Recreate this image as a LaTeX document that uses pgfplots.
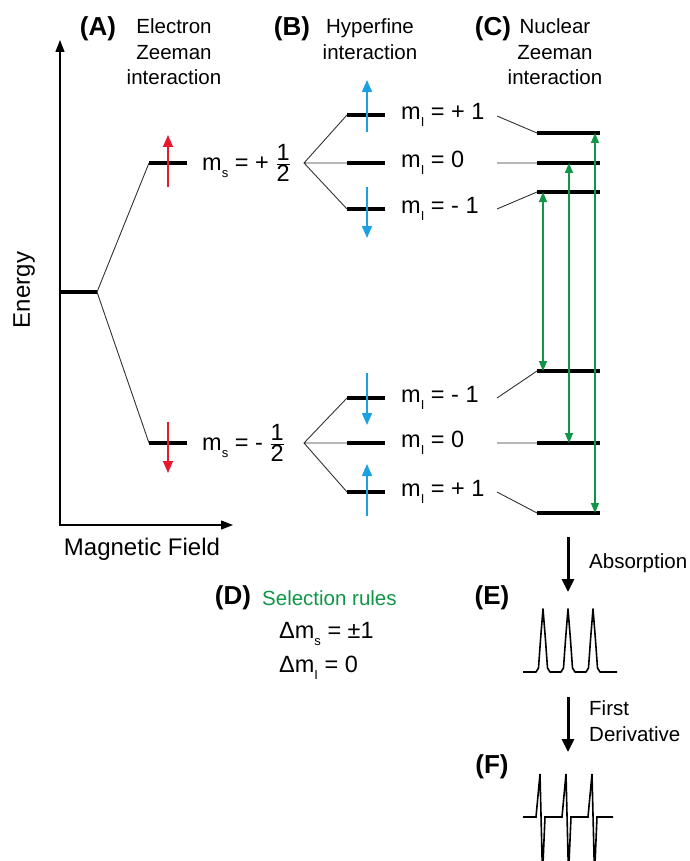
\documentclass[border=0pt]{standalone}
\usepackage{fontspec}
\setmainfont{Liberation Sans}
\usepackage{pgfplots}
\pgfplotsset{compat=1.18}
\usetikzlibrary{arrows.meta}
\definecolor{myred}{RGB}{230,25,45}
\definecolor{myblue}{RGB}{27,161,226}
\definecolor{mygreen}{RGB}{16,150,70}
\definecolor{thinc}{RGB}{50,50,50}
\newcommand\sub[1]{\raisebox{-0.55ex}{\fontsize{13bp}{13bp}\selectfont #1}}
\newcommand\half{$\frac{\mbox{1}}{\mbox{2}}$}
\newcommand\tfont{\fontsize{20.5bp}{25.5bp}\selectfont}
\newcommand\mfont{\fontsize{23.5bp}{26bp}\selectfont}
\newcommand\bfont{\fontsize{26bp}{30bp}\selectfont\bfseries}
\begin{document}
\begin{tikzpicture}
\begin{axis}[
  scale only axis, width=690bp, height=861bp,
  xmin=0, xmax=690, ymin=0, ymax=861, y dir=reverse,
  hide axis, unbounded coords=jump,
]
\addplot[draw=none] coordinates {(0,0) (690,861)};
% energy / field axes
\addplot[line width=1.3bp, {Triangle[length=12bp,width=9bp]}-{Triangle[length=12bp,width=9bp]}]
  coordinates {(60,40) (60,525) (233,525)};
% thin connecting lines
\addplot[line width=0.9bp, thinc] coordinates {
 (149,163) (97,292) (149,443) (nan,nan)
 (347,115) (304,163) (347,209) (nan,nan)
 (304,163) (347,163) (nan,nan)
 (347,398) (304,443) (347,492) (nan,nan)
 (304,443) (347,443) (nan,nan)
 (497,116) (537,133) (nan,nan)
 (497,163) (537,163) (nan,nan)
 (497,209) (537,192) (nan,nan)
 (497,398) (537,371) (nan,nan)
 (497,443) (537,443) (nan,nan)
 (497,492) (537,513)
};
% thick energy levels
\addplot[line width=3.5bp, black] coordinates {
 (60,292) (97,292) (nan,nan)
 (149,163) (187,163) (nan,nan)
 (149,443) (187,443) (nan,nan)
 (347,115) (385,115) (nan,nan)
 (347,163) (385,163) (nan,nan)
 (347,209) (385,209) (nan,nan)
 (347,398) (385,398) (nan,nan)
 (347,443) (385,443) (nan,nan)
 (347,492) (385,492) (nan,nan)
 (537,133) (600,133) (nan,nan)
 (537,163) (600,163) (nan,nan)
 (537,192) (600,192) (nan,nan)
 (537,371) (600,371) (nan,nan)
 (537,443) (600,443) (nan,nan)
 (537,513) (600,513)
};
% electron spin arrows
\addplot[line width=1.6bp, myred, -{Triangle[length=12bp,width=10bp]}] coordinates {(168,187) (168,135)};
\addplot[line width=1.6bp, myred, -{Triangle[length=12bp,width=10bp]}] coordinates {(168,422) (168,473)};
% nuclear spin arrows
\addplot[line width=1.6bp, myblue, -{Triangle[length=12bp,width=10bp]}] coordinates {(367,132) (367,80)};
\addplot[line width=1.6bp, myblue, -{Triangle[length=12bp,width=10bp]}] coordinates {(367,187) (367,238)};
\addplot[line width=1.6bp, myblue, -{Triangle[length=12bp,width=10bp]}] coordinates {(367,373) (367,425)};
\addplot[line width=1.6bp, myblue, -{Triangle[length=12bp,width=10bp]}] coordinates {(367,516) (367,464)};
% transitions
\addplot[line width=1.4bp, mygreen, {Triangle[length=10bp,width=8bp]}-{Triangle[length=10bp,width=8bp]}] coordinates {(543,192) (543,371)};
\addplot[line width=1.4bp, mygreen, {Triangle[length=10bp,width=8bp]}-{Triangle[length=10bp,width=8bp]}] coordinates {(569,163) (569,443)};
\addplot[line width=1.4bp, mygreen, {Triangle[length=10bp,width=8bp]}-{Triangle[length=10bp,width=8bp]}] coordinates {(595,133) (595,513)};
% process arrows
\addplot[line width=3bp, black, -{Triangle[length=13bp,width=12bp]}] coordinates {(568,537) (568,592)};
\addplot[line width=3bp, black, -{Triangle[length=13bp,width=12bp]}] coordinates {(568,697) (568,752)};
% absorption spectrum
\addplot[line width=1.6bp, black, line join=round] coordinates {
 (523,672) (536,672) (538.5,668) (540.5,640) (543,609) (545.5,640) (547.5,668) (550,672)
 (561,672) (563.5,668) (565.5,640) (568,609) (570.5,640) (572.5,668) (575,672)
 (586,672) (588.5,668) (590.5,640) (593,609) (595.5,640) (597.5,668) (600,672) (617,672)
};
% first derivative
\addplot[line width=1.6bp, black, line join=miter] coordinates {
 (523,817) (536,817) (540,774) (542.5,875) (545,817)
 (562,817) (566,774) (568.5,875) (571,817)
 (588,817) (592,774) (594.5,875) (597,817) (613,817)
};
% text
\node[font=\bfont] at (axis cs:98,29) {(A)};
\node[font=\tfont, align=center] at (axis cs:174,52) {Electron\\Zeeman\\interaction};
\node[font=\bfont] at (axis cs:292,29) {(B)};
\node[font=\tfont, align=center] at (axis cs:370,39) {Hyperfine\\interaction};
\node[font=\bfont] at (axis cs:493,29) {(C)};
\node[font=\tfont, align=center] at (axis cs:555,52) {Nuclear\\Zeeman\\interaction};
\node[font=\fontsize{24bp}{28bp}\selectfont, rotate=90] at (axis cs:24,290) {Energy};
\node[font=\fontsize{24bp}{28bp}\selectfont] at (axis cs:142,549) {Magnetic Field};
\node[font=\mfont, anchor=west, inner sep=0pt] at (axis cs:202,163) {m\sub{s} = + \half};
\node[font=\mfont, anchor=west, inner sep=0pt] at (axis cs:202,443) {m\sub{s} = - \half};
\node[font=\mfont, anchor=west, inner sep=0pt] at (axis cs:401,115) {m\sub{I} = + 1};
\node[font=\mfont, anchor=west, inner sep=0pt] at (axis cs:401,163) {m\sub{I} = 0};
\node[font=\mfont, anchor=west, inner sep=0pt] at (axis cs:401,209) {m\sub{I} = - 1};
\node[font=\mfont, anchor=west, inner sep=0pt] at (axis cs:401,398) {m\sub{I} = - 1};
\node[font=\mfont, anchor=west, inner sep=0pt] at (axis cs:401,443) {m\sub{I} = 0};
\node[font=\mfont, anchor=west, inner sep=0pt] at (axis cs:401,492) {m\sub{I} = + 1};
\node[font=\bfont] at (axis cs:233,598) {(D)};
\node[font=\tfont, anchor=west, inner sep=0pt, text=mygreen] at (axis cs:262,598) {Selection rules};
\node[font=\mfont, anchor=west, inner sep=0pt] at (axis cs:279,634) {Δm\sub{s} = ±1};
\node[font=\mfont, anchor=west, inner sep=0pt] at (axis cs:279,668) {Δm\sub{I} = 0};
\node[font=\tfont, anchor=west, inner sep=0pt] at (axis cs:589,563) {Absorption};
\node[font=\bfont] at (axis cs:492,598) {(E)};
\node[font=\tfont, anchor=west, inner sep=0pt, align=left] at (axis cs:589,721) {First\\Derivative};
\node[font=\bfont] at (axis cs:492,767) {(F)};
\end{axis}
\end{tikzpicture}
\end{document}
